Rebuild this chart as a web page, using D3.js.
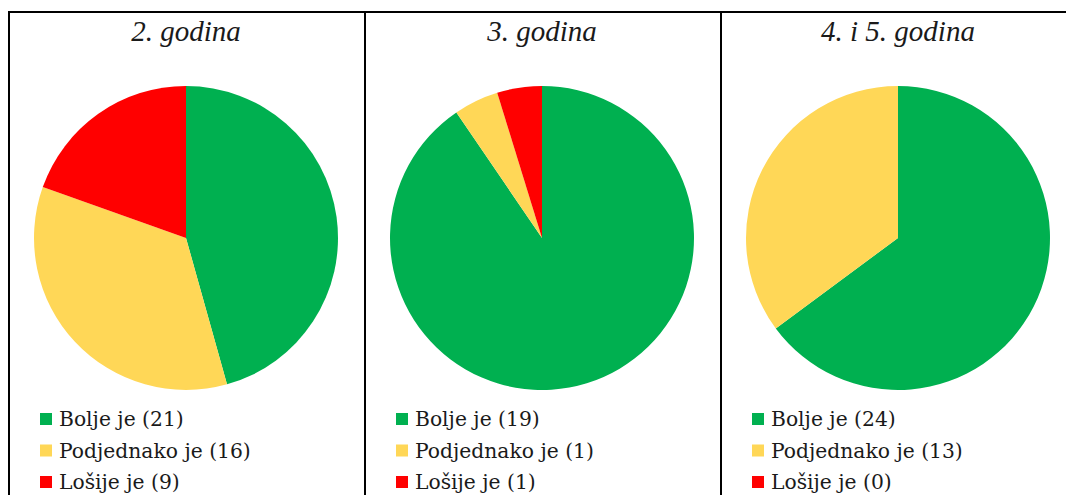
<!DOCTYPE html>
<html>
<head>
<meta charset="utf-8">
<script src="https://cdn.jsdelivr.net/npm/d3@7"></script>
<style>
  html, body { margin: 0; padding: 0; background: #fff; }
  svg { display: block; }
</style>
</head>
<body>
<svg id="chart" width="1066" height="495"></svg>
<script>
const panels = ["2. godina", "3. godina", "4. i 5. godina"];
const categories = ["Bolje je", "Podjednako je", "Lošije je"];
const colors = ["#00B050", "#FFD757", "#FF0000"];
const values = [
  [21, 16, 9],
  [19, 1, 1],
  [24, 13, 0]
];

const W = 1066, H = 495;
const svg = d3.select('#chart');

// panel frame: vertical lines
const edges = [9, 365, 721, 1077];
const titleFont = "'Liberation Serif', 'DejaVu Serif', serif";
const legendFont = "'DejaVu Serif', 'Liberation Serif', serif";

const color = d3.scaleOrdinal().domain(categories).range(colors);
const pie = d3.pie().sort(null).value(d => d.v);
const arc = d3.arc().innerRadius(0).outerRadius(152);

panels.forEach((title, i) => {
  const x0 = edges[i];
  const cx = x0 + 177;
  const g = svg.append('g');

  g.append('text')
    .attr('x', cx)
    .attr('y', 41)
    .attr('text-anchor', 'middle')
    .attr('font-family', titleFont)
    .attr('font-style', 'italic')
    .attr('font-size', 29)
    .attr('fill', '#1a1a1a')
    .text(title);

  const data = categories.map((c, j) => ({ c: c, v: values[i][j] }));

  g.append('g')
    .attr('transform', `translate(${cx},238)`)
    .selectAll('path')
    .data(pie(data).filter(d => d.data.v > 0))
    .enter().append('path')
    .attr('d', arc)
    .attr('fill', d => color(d.data.c));

  const leg = g.append('g')
    .attr('transform', `translate(${x0 + 31},0)`);

  const rows = leg.selectAll('g.row')
    .data(data).enter()
    .append('g')
    .attr('class', 'row')
    .attr('transform', (d, j) => `translate(0,${426 + j * 31.5})`);

  rows.append('rect')
    .attr('x', 0)
    .attr('y', -13)
    .attr('width', 12)
    .attr('height', 12)
    .attr('fill', d => color(d.c));

  rows.append('text')
    .attr('x', 19)
    .attr('y', 0)
    .attr('font-family', legendFont)
    .attr('font-size', 20.3)
    .attr('fill', '#1a1a1a')
    .text(d => `${d.c} (${d.v})`);
});

// frame lines
svg.append('line')
  .attr('x1', 8).attr('x2', W)
  .attr('y1', 12).attr('y2', 12)
  .attr('stroke', '#000').attr('stroke-width', 2);

edges.slice(0, 3).forEach(x => {
  svg.append('line')
    .attr('x1', x).attr('x2', x)
    .attr('y1', 11).attr('y2', H)
    .attr('stroke', '#000').attr('stroke-width', 2);
});
</script>
</body>
</html>
